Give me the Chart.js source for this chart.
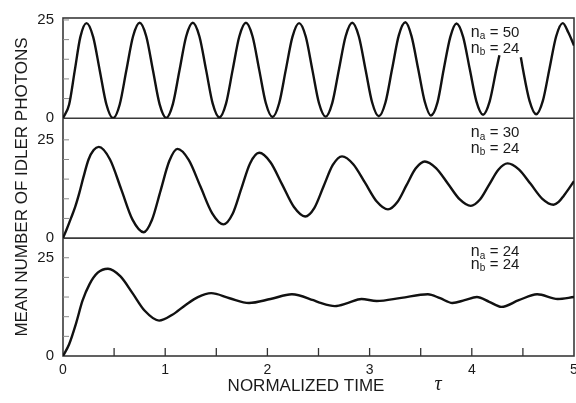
<!DOCTYPE html>
<html><head><meta charset="utf-8">
<script src="https://cdn.jsdelivr.net/npm/chart.js@4/dist/chart.umd.min.js"></script>
<style>html,body{margin:0;padding:0;background:#fff}#wrap{width:576px;height:403px;position:relative}</style>
</head><body><div id="wrap"><canvas id="c" width="576" height="403"></canvas></div>
<script>
// ---- data ----
const tauNa50 = [0,0.06,0.115,0.17,0.23,0.295,0.36,0.425,0.49,0.555,0.62,0.685,0.75,0.815,0.88,0.945,1.01,1.075,1.14,1.205,1.27,1.335,1.40,1.465,1.53,1.595,1.66,1.725,1.79,1.855,1.92,1.985,2.05,2.115,2.18,2.245,2.31,2.375,2.44,2.505,2.57,2.635,2.70,2.765,2.83,2.895,2.96,3.025,3.09,3.155,3.22,3.285,3.35,3.41,3.475,3.54,3.60,3.665,3.725,3.79,3.85,3.915,3.98,4.045,4.11,4.175,4.24,4.27,4.37,4.48,4.50,4.565,4.63,4.695,4.76,4.825,4.89,4.945,5.00];
const photonsNa50 = [0,3.5,12.1,20.7,24.2,20.7,12.1,3.5,0,3.5,12.2,20.8,24.3,20.8,12.2,3.6,0.1,3.6,12.2,20.8,24.3,20.8,12.3,3.7,0.2,3.7,12.3,20.8,24.3,20.8,12.3,3.8,0.3,3.8,12.3,20.7,24.2,20.8,12.3,3.8,0.4,3.9,12.4,20.8,24.3,20.8,12.4,4.0,0.5,4.0,12.5,21.0,24.4,20.9,12.6,4.2,0.7,4.1,12.4,20.7,24.1,20.7,12.5,4.3,0.9,4.3,12.4,16,null,15.5,12.5,4.4,1.0,4.4,12.6,20.8,24.2,21.8,18.5];

const tauNa30 = [0,0.04,0.08,0.12,0.16,0.20,0.25,0.30,0.35,0.46,0.57,0.68,0.79,0.87,0.955,1.04,1.12,1.23,1.345,1.46,1.57,1.66,1.745,1.83,1.92,2.03,2.145,2.26,2.37,2.46,2.55,2.64,2.73,2.84,2.955,3.07,3.18,3.27,3.36,3.45,3.54,3.65,3.765,3.88,3.99,4.08,4.17,4.26,4.35,4.46,4.575,4.69,4.80,4.85,4.90,4.95,5.00];
const photonsNa30 = [0,2.5,5.2,8,11.5,15.5,20,22.4,23.2,20.0,12.4,4.7,1.5,4.6,12.1,19.6,22.7,19.9,13.1,6.3,3.5,6.2,12.6,19.0,21.7,19.3,13.6,7.9,5.5,7.7,13.2,18.6,20.8,18.8,14.1,9.3,7.3,9.1,13.4,17.7,19.5,17.8,13.9,9.9,8.2,9.8,13.6,17.4,19.0,17.5,13.8,10.0,8.5,9.2,10.8,12.6,14.5];

const tauNa24 = [0,0.06,0.13,0.19,0.26,0.34,0.44,0.56,0.68,0.80,0.94,1.07,1.20,1.32,1.45,1.63,1.82,2.03,2.24,2.45,2.51,2.66,2.79,2.92,3.07,3.31,3.57,3.69,3.81,3.93,4.05,4.17,4.29,4.46,4.64,4.84,5.00];
const photonsNa24 = [0,3,8.5,14,18.3,21.2,22.2,20.3,16,11.5,9,10.5,13,15,16,14.7,13.5,14.5,15.7,14.2,13.6,12.7,13.5,14.5,14,14.8,15.7,14.7,13.5,14.2,15,13.8,12.5,14.2,15.7,14.5,15];

const timeTickLabels = [0,1,2,3,4,5];
const timeMinorTicks = [0.5,1,1.5,2,2.5,3,3.5,4,4.5];
const photonTickLabels = [0,25];
const photonMinorTicks = [5,10,15,20,25];
const naValues = ['50','30','24'];
const nbValues = ['24','24','24'];
const yTitle = 'MEAN NUMBER OF IDLER PHOTONS';
const xTitle = 'NORMALIZED TIME';
const xSymbol = '\u03C4';

// ---- chart ----
const FONT = '"Liberation Sans", Arial, Helvetica, sans-serif';
const INK = '#1a1a1a';
function pts(t, v) { return t.map((x, i) => ({ x: x, y: v[i] })); }
function lineSet(t, v, axis) {
  return { data: pts(t, v), yAxisID: axis, borderColor: '#111', borderWidth: 2.4,
    pointRadius: 0, fill: false, cubicInterpolationMode: 'monotone', spanGaps: false };
}
function yScale(max, weight) {
  return {
    type: 'linear', position: 'left', stack: 'panels', stackWeight: weight,
    min: 0, max: max,
    afterBuildTicks: s => { s.ticks = photonTickLabels.map(v => ({ value: v })); },
    afterFit: s => { s.width = 63; },
    ticks: { color: INK, font: { family: FONT, size: 15 }, padding: 9, callback: v => String(v) },
    grid: { display: false, drawTicks: false }, border: { display: false }
  };
}

const panelIds = ['yTop', 'yMiddle', 'yBottom'];
const labelAnchors = [[21.75, 17.75], [26.75, 22.75], [26.5, 23.25]];

const decor = {
  id: 'decor',
  beforeDatasetsDraw(chart) {
    const { ctx, chartArea: a, scales } = chart;
    const line = (x1, y1, x2, y2) => { ctx.beginPath(); ctx.moveTo(x1, y1); ctx.lineTo(x2, y2); ctx.stroke(); };
    ctx.save();
    ctx.strokeStyle = '#3a3a3a'; ctx.lineWidth = 1.6;
    ctx.strokeRect(a.left, a.top, a.right - a.left, a.bottom - a.top);
    ['yMiddle', 'yBottom'].forEach(id => { const y = scales[id].top; line(a.left, y, a.right, y); });
    ctx.strokeStyle = '#8a8a8a'; ctx.lineWidth = 1;
    panelIds.forEach(id => {
      const s = scales[id];
      photonMinorTicks.forEach(v => { const y = s.getPixelForValue(v); line(a.left, y, a.left + 6, y); });
    });
    ctx.strokeStyle = '#333'; ctx.lineWidth = 1.3;
    timeMinorTicks.forEach(v => { const x = scales.x.getPixelForValue(v); line(x, a.bottom, x, a.bottom - 8); });
    ctx.restore();
  },
  afterDatasetsDraw(chart) {
    const { ctx, chartArea: a, scales } = chart;
    ctx.save();
    ctx.fillStyle = INK;
    ctx.textBaseline = 'middle';
    const xL = scales.x.getPixelForValue(3.99);
    panelIds.forEach((id, i) => {
      const s = scales[id];
      const rows = [['a', naValues[i]], ['b', nbValues[i]]];
      rows.forEach((r, j) => {
        const y = s.getPixelForValue(labelAnchors[i][j]);
        ctx.textAlign = 'left';
        ctx.font = '16px ' + FONT;
        ctx.fillText('n', xL, y);
        ctx.font = '10px ' + FONT;
        ctx.fillText(r[0], xL + 9, y + 4);
        ctx.font = '15px ' + FONT;
        ctx.fillText('= ' + r[1], xL + 19, y);
      });
    });
    // axis titles
    ctx.font = '17px ' + FONT;
    ctx.textAlign = 'center';
    ctx.save();
    ctx.translate(22, (a.top + a.bottom) / 2);
    ctx.rotate(-Math.PI / 2);
    ctx.fillText(yTitle, 0, 0);
    ctx.restore();
    ctx.fillText(xTitle, 306, 386);
    ctx.font = 'italic 20px "Liberation Serif", "DejaVu Serif", serif';
    ctx.fillText(xSymbol, 438, 385);
    ctx.restore();
  }
};

new Chart(document.getElementById('c'), {
  type: 'line',
  data: {
    datasets: [
      lineSet(tauNa50, photonsNa50, 'yTop'),
      lineSet(tauNa30, photonsNa30, 'yMiddle'),
      lineSet(tauNa24, photonsNa24, 'yBottom')
    ]
  },
  options: {
    responsive: false, animation: false, devicePixelRatio: 1,
    layout: { padding: { left: 0, top: 12, right: 2, bottom: 0 } },
    plugins: { legend: { display: false }, tooltip: { enabled: false } },
    scales: {
      x: {
        type: 'linear', min: 0, max: 5,
        afterBuildTicks: s => { s.ticks = timeTickLabels.map(v => ({ value: v })); },
        afterFit: s => { s.height = 47; s.paddingRight = 0; s.paddingLeft = 0; },
        ticks: { color: INK, font: { family: FONT, size: 14 }, padding: 6, maxRotation: 0, callback: v => String(v) },
        grid: { display: false, drawTicks: false }, border: { display: false }
      },
      yBottom: yScale(30, 30),
      yMiddle: yScale(30.5, 30.5),
      yTop: yScale(25.5, 25.5)
    }
  },
  plugins: [decor]
});
</script>
</body></html>
